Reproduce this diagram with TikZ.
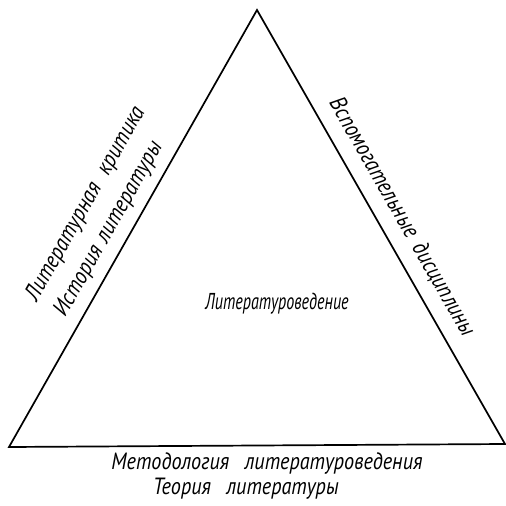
\documentclass[tikz,border=0pt]{standalone}
\usepackage{fontspec}
\newfontfamily\gostc{PT Sans}[FakeStretch=0.70]
\newfontfamily\goste{PT Sans}[FakeStretch=0.86]
\begin{document}
\begin{tikzpicture}[x=1pt,y=-1pt,
  clbl/.style={font=\gostc\itshape\fontsize{23}{27}\selectfont, inner sep=0pt},
  lbl/.style={font=\goste\itshape\fontsize{23.5}{28}\selectfont, inner sep=0pt},
  edge/.style={line width=1.7pt, line join=miter}]
\useasboundingbox (0,0) rectangle (506,506);
\coordinate (A) at (257,10);
\coordinate (B) at (9,447);
\coordinate (C) at (505,444);
\draw[edge] (A) -- (B) -- (C) -- cycle;
\node[clbl] (center) at (277,304) {Литературоведение};
\node[lbl, rotate=60.4] (lk) at (86,204) {Литературная\hspace{0.55em}критика};
\node[lbl, rotate=60.4] (il) at (109,229) {История\hspace{0.3em}литературы};
\node[lbl, rotate=-60.2] (vd) at (402,217) {Вспомогательные\hspace{0.4em}дисциплины};
\node[lbl] (ml) at (267,464) {Методология\hspace{0.65em}литературоведения};
\node[lbl] (tl) at (246,489) {Теория\hspace{0.65em}литературы};
\end{tikzpicture}
\end{document}
